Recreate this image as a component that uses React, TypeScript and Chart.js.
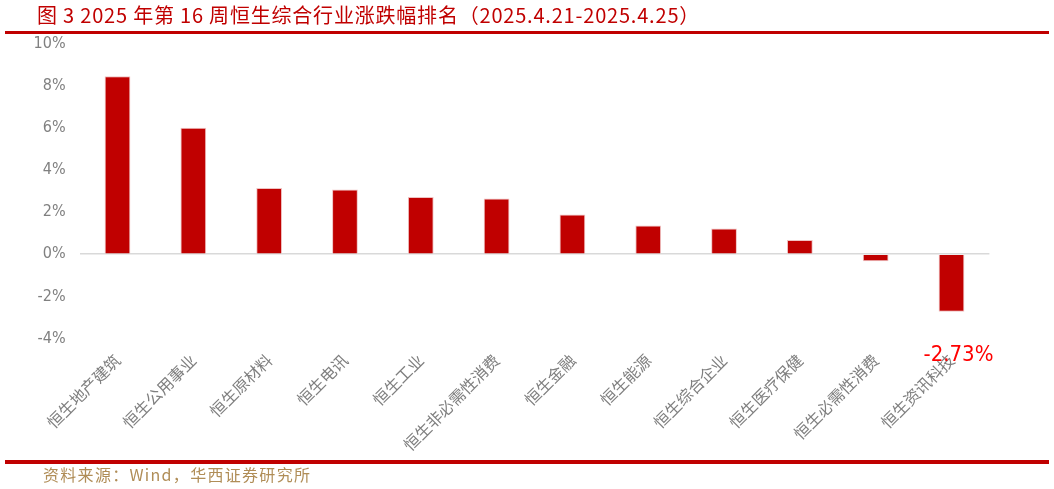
import React, { useEffect, useRef } from "react";
import { Chart, registerables } from "chart.js";

Chart.register(...registerables);

const TITLE = "图 3 2025 年第 16 周恒生综合行业涨跌幅排名（2025.4.21-2025.4.25）";
const SOURCE = "资料来源：Wind，华西证券研究所";

const categories: string[] = [
  "恒生地产建筑",
  "恒生公用事业",
  "恒生原材料",
  "恒生电讯",
  "恒生工业",
  "恒生非必需性消费",
  "恒生金融",
  "恒生能源",
  "恒生综合企业",
  "恒生医疗保健",
  "恒生必需性消费",
  "恒生资讯科技",
];

const weeklyChange: number[] = [8.44, 6.0, 3.14, 3.07, 2.71, 2.64, 1.88, 1.36, 1.22, 0.67, -0.33, -2.73];

const yTicks = { min: -4, max: 10, step: 2 };
const labeledIndex = 11;

const NARROW = '"Liberation Sans Narrow", "DejaVu Sans Condensed", "Liberation Sans", sans-serif';
const CJK = '"Noto Sans CJK SC", "Noto Sans", sans-serif';

const valueLabelPlugin = {
  id: "valueLabel",
  afterDraw(chart: any) {
    const meta = chart.getDatasetMeta(0);
    const el = meta.data[labeledIndex];
    if (!el) return;
    const ctx = chart.ctx;
    ctx.save();
    ctx.font = `22px ${NARROW}`;
    ctx.fillStyle = "#FF0000";
    ctx.textAlign = "center";
    ctx.textBaseline = "middle";
    ctx.fillText(weeklyChange[labeledIndex].toFixed(2) + "%", el.x + 7, el.y + 44);
    ctx.restore();
  },
};

export default function App() {
  const canvasRef = useRef<HTMLCanvasElement | null>(null);

  useEffect(() => {
    document.body.style.margin = "0";
    const canvas = canvasRef.current;
    if (!canvas) return;
    const chart = new Chart(canvas, {
      type: "bar",
      data: {
        labels: categories,
        datasets: [
          {
            data: weeklyChange,
            backgroundColor: "#C00000",
            borderColor: "#EFC2C2",
            borderWidth: 1,
            barPercentage: 0.34,
            categoryPercentage: 1.0,
          },
        ],
      },
      options: {
        animation: false,
        responsive: false,
        maintainAspectRatio: false,
        layout: { padding: { top: 43.5, right: 64.6, left: 0, bottom: 0 } },
        plugins: {
          legend: { display: false },
          tooltip: { enabled: false },
        },
        scales: {
          x: {
            grid: { display: false },
            border: { display: false },
            ticks: {
              autoSkip: false,
              minRotation: 45,
              maxRotation: 45,
              padding: 4,
              color: "#7F7F7F",
              font: { family: CJK, size: 16 },
            },
            afterFit(scale: any) {
              scale.height = 489 - 338.5;
            },
          },
          y: {
            min: yTicks.min,
            max: yTicks.max,
            ticks: {
              stepSize: yTicks.step,
              padding: 14,
              color: "#808080",
              font: { family: NARROW, size: 16 },
              callback: (v: any) => `${v}%`,
            },
            grid: {
              drawTicks: false,
              lineWidth: 1.5,
              color: (ctx: any) => (ctx.tick && ctx.tick.value === 0 ? "#D9D9D9" : "rgba(0,0,0,0)"),
            },
            border: { display: false },
            afterFit(scale: any) {
              scale.width = 79.6;
            },
          },
        },
      },
      plugins: [valueLabelPlugin],
    });
    return () => chart.destroy();
  }, []);

  return (
    <div
      style={{
        position: "fixed",
        left: 0,
        top: 0,
        width: 1054,
        height: 489,
        background: "#FFFFFF",
        overflow: "hidden",
      }}
    >
      <canvas ref={canvasRef} width={1054} height={489} style={{ position: "absolute", left: 0, top: 0 }} />
      <div
        style={{
          position: "absolute",
          left: 37,
          top: 2,
          fontFamily: CJK,
          fontSize: 20,
          lineHeight: "26px",
          letterSpacing: 0.8,
          color: "#C00000",
          whiteSpace: "nowrap",
        }}
      >
        {TITLE}
      </div>
      <div style={{ position: "absolute", left: 5, top: 31, width: 1044, height: 3, background: "#C00000" }} />
      <div style={{ position: "absolute", left: 5, top: 460, width: 1044, height: 4, background: "#C00000" }} />
      <div
        style={{
          position: "absolute",
          left: 43,
          top: 463,
          fontFamily: CJK,
          fontSize: 16,
          lineHeight: "22px",
          letterSpacing: 1.3,
          color: "#B08D57",
          whiteSpace: "nowrap",
        }}
      >
        {SOURCE}
      </div>
    </div>
  );
}
